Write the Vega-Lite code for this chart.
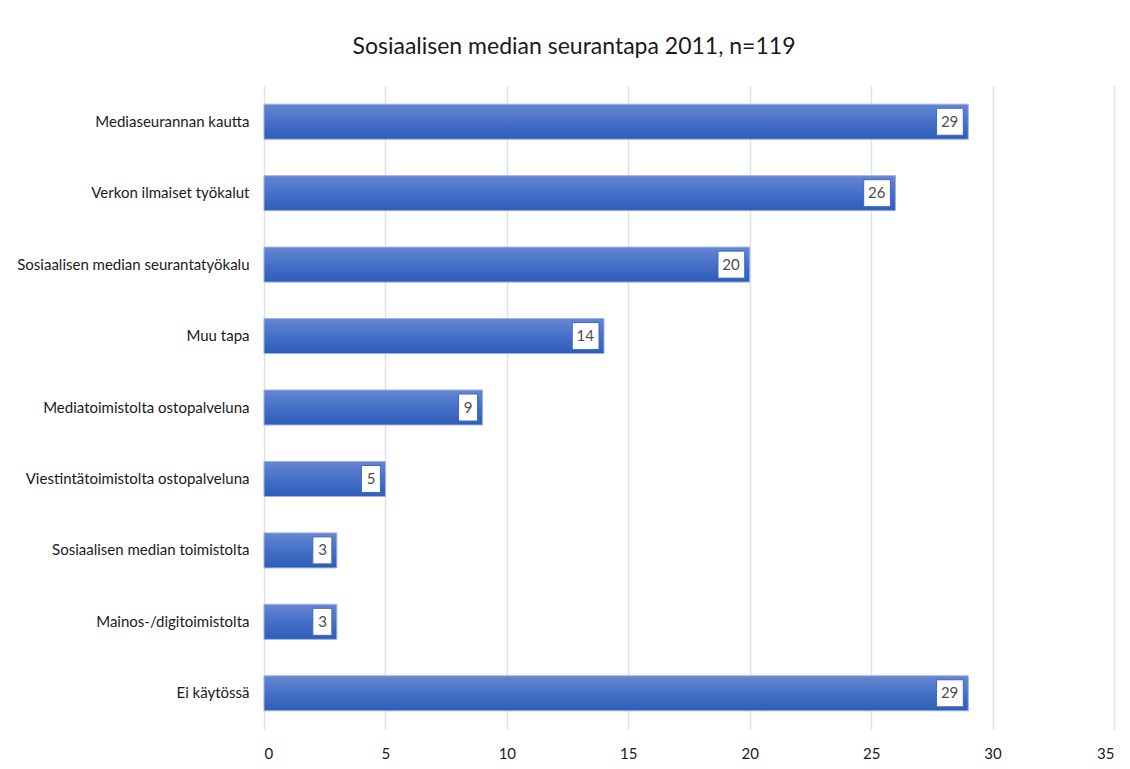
{
  "$schema": "https://vega.github.io/schema/vega-lite/v6.json",
  "autosize": "none",
  "width": 850,
  "height": 643,
  "padding": {"left": 264, "top": 86, "right": 16, "bottom": 40},
  "background": "white",
  "title": {
    "text": "Sosiaalisen median seurantapa 2011, n=119",
    "font": "Lato",
    "fontSize": 23,
    "fontWeight": "normal",
    "color": "#1a1a1a",
    "anchor": "middle",
    "frame": "group",
    "dx": -115,
    "offset": 27
  },
  "data": {
    "values": [
      {"category": "Mediaseurannan kautta", "value": 29},
      {"category": "Verkon ilmaiset työkalut", "value": 26},
      {"category": "Sosiaalisen median seurantatyökalu", "value": 20},
      {"category": "Muu tapa", "value": 14},
      {"category": "Mediatoimistolta ostopalveluna", "value": 9},
      {"category": "Viestintätoimistolta ostopalveluna", "value": 5},
      {"category": "Sosiaalisen median toimistolta", "value": 3},
      {"category": "Mainos-/digitoimistolta", "value": 3},
      {"category": "Ei käytössä", "value": 29}
    ]
  },
  "encoding": {
    "y": {
      "field": "category",
      "type": "nominal",
      "sort": null,
      "scale": {"paddingInner": 0.51, "paddingOuter": 0.255},
      "axis": {
        "title": null,
        "ticks": false,
        "domain": false,
        "labelFont": "Lato",
        "labelFontSize": 15,
        "labelColor": "#1a1a1a",
        "labelPadding": 15,
        "labelLimit": 300
      }
    },
    "x": {
      "field": "value",
      "type": "quantitative",
      "scale": {"domain": [0, 35]},
      "axis": {
        "title": null,
        "values": [0, 5, 10, 15, 20, 25, 30, 35],
        "ticks": false,
        "domain": false,
        "grid": true,
        "gridColor": "#dde1ea",
        "gridWidth": 1.5,
        "labelFont": "Lato",
        "labelFontSize": 15,
        "labelColor": "#1a1a1a",
        "labelPadding": 17
      }
    }
  },
  "layer": [
    {
      "mark": {
        "type": "bar",
        "stroke": "#9db3e3",
        "strokeWidth": 1,
        "color": {
          "gradient": "linear",
          "x1": 0, "y1": 0, "x2": 0, "y2": 1,
          "stops": [
            {"offset": 0, "color": "#6586d2"},
            {"offset": 0.5, "color": "#4670c8"},
            {"offset": 1, "color": "#2e5cb9"}
          ]
        }
      }
    },
    {
      "mark": {
        "type": "point",
        "filled": true,
        "fill": "white",
        "stroke": "#3f67c0",
        "strokeWidth": 1,
        "opacity": 1,
        "fillOpacity": 1,
        "size": 729,
        "xOffset": -5
      },
      "encoding": {
        "shape": {
          "condition": {"test": "datum.value >= 10", "value": "M-1.98,-1H0V1H-1.98Z"},
          "value": "M-1.41,-1H0V1H-1.41Z"
        }
      }
    },
    {
      "mark": {
        "type": "text",
        "align": "right",
        "baseline": "middle",
        "dx": -10,
        "font": "Lato",
        "fontSize": 15,
        "color": "#4d4d4d"
      },
      "encoding": {
        "text": {"field": "value", "type": "quantitative"}
      }
    }
  ],
  "config": {
    "view": {"stroke": null}
  }
}
